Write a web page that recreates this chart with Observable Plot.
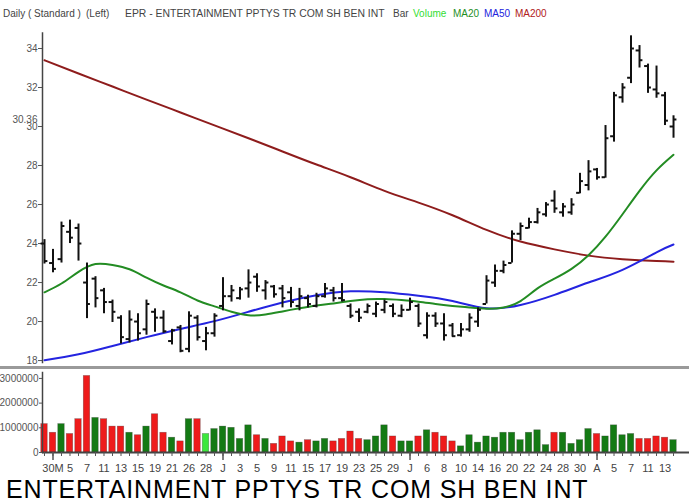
<!DOCTYPE html>
<html><head><meta charset="utf-8">
<script src="https://cdn.jsdelivr.net/npm/d3@7"></script>
<script src="https://cdn.jsdelivr.net/npm/@observablehq/plot@0.6"></script>
<style>
body{margin:0;background:#fff;font-family:"Liberation Sans",Arial,sans-serif;}
#wrap{position:relative;width:689px;height:504px;overflow:hidden;background:#fff;}
#hdr span{position:absolute;top:8px;font-size:10px;line-height:12px;color:#444;white-space:nowrap;}
#price{position:absolute;left:0;top:20px;}
#sep{position:absolute;left:0;top:366px;width:689px;height:3px;background:#9a9a9a;}
#vol{position:absolute;left:0;top:370px;}
#title{position:absolute;left:6px;top:477px;font-size:25px;line-height:25px;letter-spacing:0.85px;color:#000;white-space:nowrap;}
</style></head><body>
<div id="wrap">
  <div id="hdr">
    <span style="left:3px">Daily ( Standard )</span>
    <span style="left:86px">(Left)</span>
    <span style="left:125px;font-size:10.4px">EPR - ENTERTAINMENT PPTYS TR COM SH BEN INT</span>
    <span style="left:393px">Bar</span>
    <span style="left:413px;color:#33dd33">Volume</span>
    <span style="left:453px;color:#1f8f1f">MA20</span>
    <span style="left:484px;color:#2222dd">MA50</span>
    <span style="left:515px;color:#b02020">MA200</span>
  </div>
  <div id="price"></div>
  <div id="sep"></div>
  <div id="vol"></div>
  <div id="title">ENTERTAINMENT PPTYS TR COM SH BEN INT</div>
</div>
<script>
// ---- data (75 daily bars) ----
const highs  = [24.2,23.7,25.1,25.2,25.0,23.0,22.3,21.7,21.1,20.3,20.55,20.4,21.1,20.65,20.55,19.6,19.8,20.5,20.3,19.7,20.4,22.25,21.85,21.75,22.65,22.45,22.1,21.85,21.85,21.75,21.7,21.35,21.45,21.95,21.75,21.95,20.9,20.65,20.9,21.0,21.1,20.9,20.85,21.2,20.9,20.45,20.45,20.4,19.9,19.9,20.4,20.7,22.35,22.9,23.1,24.65,25.05,25.3,25.8,26.1,26.7,26.05,26.3,27.6,28.25,27.85,30.05,31.75,32.2,34.65,34.15,33.2,33.1,31.75,30.55];
const lows   = [22.95,22.5,23.0,24.0,23.1,20.15,20.7,20.4,19.95,18.85,18.9,19.0,19.3,19.45,19.4,18.8,18.4,18.4,19.0,18.5,19.2,20.55,21.0,21.1,21.2,21.5,21.1,21.2,20.7,20.7,20.55,20.7,20.7,21.2,21.0,21.0,20.15,19.95,20.4,20.2,20.4,20.2,20.2,20.55,19.7,19.1,19.7,19.0,19.2,19.2,19.45,19.7,20.9,21.75,22.45,23.0,24.15,24.75,25.0,25.35,25.55,25.35,25.45,26.55,26.7,27.25,27.35,29.2,31.2,32.2,33.0,31.7,31.45,30.05,29.4];
const opens  = [24.0,23.0,23.2,24.6,24.8,22.0,22.2,21.6,21.0,20.2,19.1,20.0,19.6,20.5,20.2,19.0,19.7,18.6,20.2,19.0,19.4,20.8,21.3,21.2,21.7,22.3,21.6,21.8,21.7,21.5,20.8,21.2,20.8,21.3,21.6,21.2,20.8,20.5,20.5,20.4,20.6,20.8,20.3,20.6,20.8,19.3,20.3,19.9,19.8,19.3,19.6,20.0,20.9,22.0,22.6,23.0,24.5,24.8,25.1,25.5,26.2,25.6,25.6,26.6,27.0,27.8,27.4,29.5,31.5,32.5,33.9,33.1,31.9,31.6,30.0];
const closes = [23.1,22.7,24.9,24.3,24.0,20.9,21.2,21.0,20.5,19.2,20.1,19.4,20.9,20.2,19.5,19.55,18.5,20.3,19.2,19.4,20.3,21.3,21.6,21.65,22.0,21.8,22.0,21.4,21.2,21.0,21.3,20.9,21.3,21.7,21.2,21.1,20.3,20.2,20.8,20.9,21.0,20.4,20.6,21.0,19.9,20.3,19.9,19.3,19.25,19.6,20.2,20.6,22.1,22.6,22.9,24.5,24.9,25.1,25.6,26.0,25.8,25.9,26.0,27.2,27.7,27.4,29.4,31.6,32.0,34.0,33.4,32.0,31.7,30.3,30.36];
const volumes = [1150000,800000,1150000,750000,1350000,3100000,1400000,1350000,1050000,1050000,800000,700000,1050000,1550000,800000,600000,450000,1350000,1350000,750000,950000,1050000,1000000,550000,1100000,700000,550000,350000,650000,450000,400000,500000,450000,550000,450000,550000,850000,550000,500000,650000,1100000,650000,450000,450000,650000,900000,800000,650000,450000,250000,700000,400000,650000,600000,800000,800000,500000,800000,900000,300000,800000,800000,350000,500000,950000,750000,650000,1100000,700000,750000,550000,550000,650000,600000,500000];
const volDir = ["r","r","g","r","r","r","g","r","r","r","g","r","g","r","r","g","r","g","r","l","g","g","g","g","g","r","g","r","r","r","g","r","g","g","r","r","r","r","g","g","g","r","g","g","r","g","r","r","r","g","g","g","g","g","g","g","g","g","g","g","r","g","g","g","g","r","g","g","g","g","r","r","r","r","g"];
const dateLabels = ["30M","5","7","11","13","15","19","21","26","28","J","3","5","9","11","15","17","19","23","25","29","J","6","8","10","14","16","20","22","24","28","30","A","5","7","11","13"];
const monthStarts = [1,21,43,65];
const lastClose = 30.36;
const priceTicks = [18,20,22,24,26,28,30,32,34];
const volTicks = [0,1000000,2000000,3000000];
// moving averages (bar index -> value)
const ma20Idx = [0,2,4,6,8,10,12,14,16,18,20,22,24,26,28,30,32,34,36,38,40,42,44,46,48,50,52,54,56,58,60,62,64,66,68,70,72,74];
const ma20Val = [21.5,21.95,22.55,22.95,22.9,22.68,22.25,21.85,21.5,21.08,20.78,20.5,20.32,20.36,20.52,20.68,20.82,20.93,21.05,21.14,21.15,21.1,21.02,20.9,20.8,20.72,20.66,20.72,21.05,21.7,22.2,22.7,23.4,24.35,25.5,26.7,27.75,28.55];
const maIdx = [0,4,8,12,16,20,24,28,32,36,40,44,48,52,56,60,64,68,72,74];
const ma50Val = [18.02,18.32,18.75,19.2,19.62,20.02,20.5,20.98,21.35,21.55,21.5,21.32,21.05,20.68,20.85,21.37,22.0,22.65,23.55,23.95];
const ma200Val = [33.4,32.72,32.05,31.38,30.72,30.06,29.4,28.72,28.05,27.4,26.7,26.1,25.45,24.7,24.1,23.7,23.38,23.2,23.1,23.07];

// ---- tables ----
const bars = highs.map((h,i)=>({i, high:h, low:lows[i], open:opens[i], close:closes[i]}));
const vbars = volumes.map((v,i)=>({i, vol:v, dir:volDir[i]}));
const ma20 = ma20Idx.map((i,k)=>({i, v:ma20Val[k]}));
const ma50 = maIdx.map((i,k)=>({i, v:ma50Val[k]}));
const ma200 = maIdx.map((i,k)=>({i, v:ma200Val[k]}));
const volColor = {r:"#ee1b1b", g:"#147a14", l:"#3ce83c"};
const xDomain = [-0.235, 75.88];
const font = {fontFamily:"Liberation Sans, Arial, sans-serif", fontSize:"10px", color:"#444", background:"transparent"};

const price = Plot.plot({
  width:689, height:350, marginLeft:42, marginRight:0, marginTop:12.4, marginBottom:8,
  x:{domain:xDomain, axis:null},
  y:{domain:[17.9,34.8]},
  style:font,
  marks:[
    Plot.axisY({ticks:priceTicks, tickSize:4, tickPadding:1, label:null, stroke:"#555", fill:"#555", fontSize:10}),
    Plot.axisY({ticks:[lastClose], tickSize:0, tickPadding:5, tickFormat:d=>d.toFixed(2), label:null, fill:"#555", fontSize:10}),
    Plot.frame({anchor:"left", stroke:"#444", strokeWidth:1.5}),
    Plot.line(ma200, {x:"i", y:"v", stroke:"#8e1c1c", strokeWidth:2, curve:"natural"}),
    Plot.line(ma50, {x:"i", y:"v", stroke:"#2424e0", strokeWidth:2, curve:"natural"}),
    Plot.line(ma20, {x:"i", y:"v", stroke:"#238c23", strokeWidth:2, curve:"natural"}),
    Plot.ruleX(bars, {x:"i", y1:"low", y2:"high", stroke:"#111", strokeWidth:2}),
    Plot.ruleY(bars, {y:"open", x1:d=>d.i-0.4, x2:"i", stroke:"#111", strokeWidth:2}),
    Plot.ruleY(bars, {y:"close", x1:"i", x2:d=>d.i+0.4, stroke:"#111", strokeWidth:2})
  ]
});
document.getElementById("price").appendChild(price);

const vol = Plot.plot({
  width:689, height:110, marginLeft:42, marginRight:0, marginTop:2, marginBottom:28,
  x:{domain:xDomain},
  y:{domain:[0,3240000]},
  style:font,
  marks:[
    Plot.rectY(vbars, {x1:d=>d.i-0.38, x2:d=>d.i+0.38, y1:0, y2:"vol", fill:d=>volColor[d.dir], stroke:"#333", strokeOpacity:0.45, strokeWidth:0.6}),
    Plot.ruleY([0], {stroke:"#444", strokeWidth:2}),
    Plot.frame({anchor:"left", stroke:"#444", strokeWidth:1.5}),
    Plot.axisY({ticks:volTicks, tickFormat:d=>String(d), tickSize:3, tickPadding:1, label:null, stroke:"#555", fill:"#555", fontSize:10}),
    Plot.axisX({ticks:d3.range(volumes.length), tickSize:4, tickFormat:()=>"", label:null, stroke:"#555"}),
    Plot.axisX({ticks:monthStarts, tickSize:8, tickFormat:()=>"", label:null, stroke:"#555", strokeWidth:1.5}),
    Plot.axisX({ticks:dateLabels.map((_,k)=>2*k+1), tickSize:0, tickPadding:12, tickFormat:i=>dateLabels[(i-1)/2], label:null, fill:"#444", fontSize:11})
  ]
});
document.getElementById("vol").appendChild(vol);
</script>
</body></html>
